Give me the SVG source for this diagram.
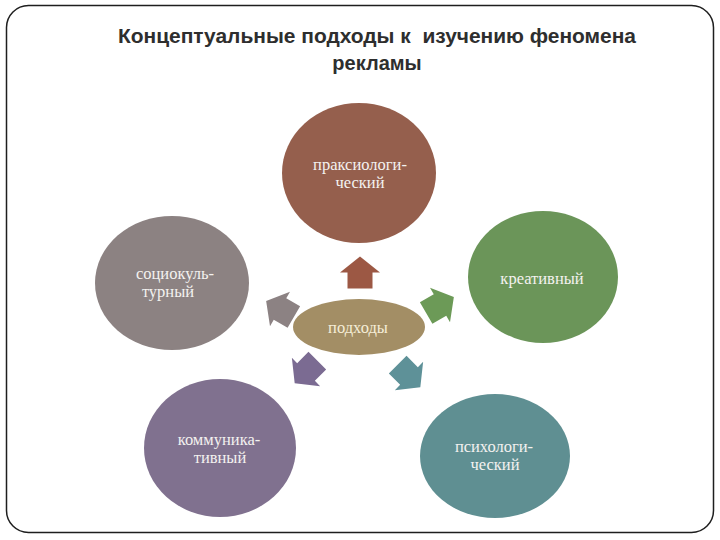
<svg xmlns="http://www.w3.org/2000/svg" width="720" height="540" viewBox="0 0 720 540">
  <style>
    .title { font-family: "Liberation Sans", Arial, sans-serif; font-weight: bold; font-size: 20px; fill: #2e2e2e; text-anchor: middle; white-space: pre; }
    .lbl { font-family: "Liberation Serif", "DejaVu Serif", serif; font-size: 16.5px; fill: #f4f2f0; text-anchor: middle; }
  </style>
  <defs>
    <polygon id="arrow" points="0,-16 20,0 12.5,0 12.5,16 -12.5,16 -12.5,0 -20,0"/>
  </defs>
  <rect x="0" y="0" width="720" height="540" fill="#ffffff"/>
  <rect x="6.5" y="5.5" width="707" height="527" rx="22" ry="22" fill="#ffffff" stroke="#1e1e1e" stroke-width="1.5"/>

  <g id="title">
    <text class="title" x="377" y="43" textLength="518" lengthAdjust="spacingAndGlyphs" xml:space="preserve">Концептуальные подходы к  изучению феномена</text>
    <text class="title" x="377" y="70">рекламы</text>
  </g>

  <g id="connectors">
    <use href="#arrow" transform="translate(360,272.5)" fill="#9c5844"/>
    <use href="#arrow" transform="translate(440,305) rotate(60)" fill="#6c9a57"/>
    <use href="#arrow" transform="translate(409,376) rotate(135)" fill="#5e9198"/>
    <use href="#arrow" transform="translate(306,372) rotate(-135)" fill="#7b6b92"/>
    <use href="#arrow" transform="translate(280,309) rotate(-60)" fill="#8c8283"/>
  </g>

  <g id="node-praxeo">
    <ellipse cx="359" cy="173" rx="77" ry="70" fill="#955f4d"/>
    <text class="lbl" x="360" y="170">праксиологи-</text>
    <text class="lbl" x="360" y="188">ческий</text>
  </g>

  <g id="node-creative">
    <ellipse cx="543" cy="277" rx="75" ry="66" fill="#6b9559"/>
    <text class="lbl" x="542" y="284">креативный</text>
  </g>

  <g id="node-psych">
    <ellipse cx="495" cy="456" rx="75" ry="62" fill="#5f8f92"/>
    <text class="lbl" x="494" y="452">психологи-</text>
    <text class="lbl" x="495" y="470">ческий</text>
  </g>

  <g id="node-comm">
    <ellipse cx="220" cy="448" rx="76" ry="69" fill="#80718f"/>
    <text class="lbl" x="219" y="445">коммуника-</text>
    <text class="lbl" x="220" y="463">тивный</text>
  </g>

  <g id="node-socio">
    <ellipse cx="172" cy="283" rx="77" ry="67" fill="#8c8282"/>
    <text class="lbl" x="175" y="279">социокуль-</text>
    <text class="lbl" x="168" y="297">турный</text>
  </g>

  <g id="node-center">
    <ellipse cx="359" cy="327" rx="66" ry="28" fill="#a38e65"/>
    <text class="lbl" x="358" y="333" style="fill:#f6efd8">подходы</text>
  </g>
</svg>
